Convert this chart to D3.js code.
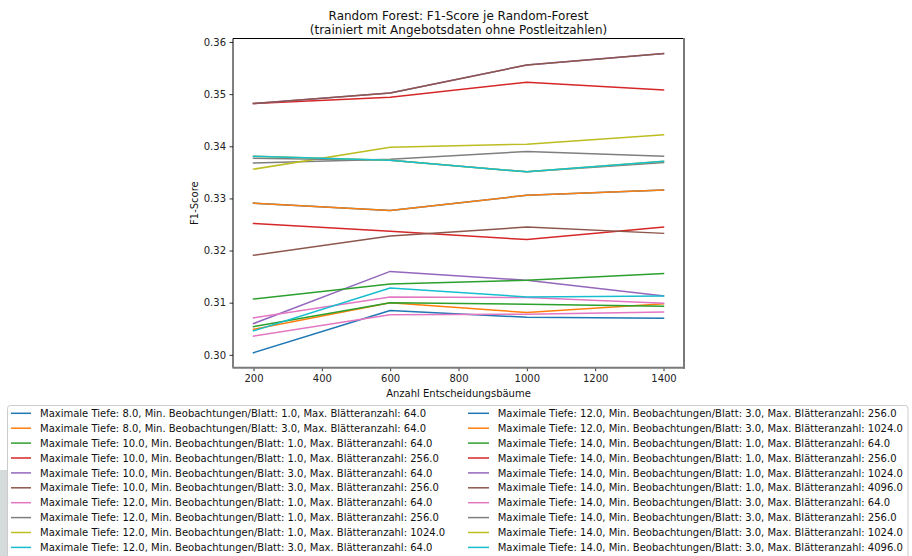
<!DOCTYPE html>
<html>
<head>
<meta charset="utf-8">
<script src="https://cdn.jsdelivr.net/npm/d3@7"></script>
<style>
  html, body { margin: 0; padding: 0; background: #ffffff; }
  svg { display: block; font-family: "DejaVu Sans", sans-serif; }
</style>
</head>
<body>
<svg id="chart" width="912" height="556"></svg>
<script>
// ---------------- data ----------------
const nTrees = [200, 600, 1000, 1400];
const xTicks = [200, 400, 600, 800, 1000, 1200, 1400];
const yTicks = [0.30, 0.31, 0.32, 0.33, 0.34, 0.35, 0.36];

const maxDepth  = [8, 8, 10, 10, 10, 10, 12, 12, 12, 12, 12, 12, 14, 14, 14, 14, 14, 14, 14, 14];
const minLeaf   = [1, 3, 1, 1, 3, 3, 1, 1, 1, 3, 3, 3, 1, 1, 1, 1, 3, 3, 3, 3];
const maxLeaves = [64, 64, 64, 256, 64, 256, 64, 256, 1024, 64, 256, 1024, 64, 256, 1024, 4096, 64, 256, 1024, 4096];

const f1Scores = [
  [0.3004, 0.3085, 0.3072, 0.3070],
  [0.3049, 0.3100, 0.3081, 0.3098],
  [0.3054, 0.3100, 0.3097, 0.3093],
  [0.3252, 0.3237, 0.3221, 0.3245],
  [0.3060, 0.3160, 0.3143, 0.3113],
  [0.3191, 0.3228, 0.3245, 0.3233],
  [0.3071, 0.3111, 0.3110, 0.3099],
  [0.3368, 0.3375, 0.3390, 0.3381],
  [0.3356, 0.3398, 0.3404, 0.3422],
  [0.3046, 0.3128, 0.3111, 0.3113],
  [0.3291, 0.3277, 0.3306, 0.3316],
  [0.3291, 0.3277, 0.3306, 0.3316],
  [0.3107, 0.3136, 0.3143, 0.3156],
  [0.3482, 0.3494, 0.3523, 0.3508],
  [0.3482, 0.3502, 0.3556, 0.3578],
  [0.3482, 0.3502, 0.3556, 0.3578],
  [0.3036, 0.3077, 0.3078, 0.3082],
  [0.3377, 0.3373, 0.3351, 0.3369],
  [0.3381, 0.3373, 0.3351, 0.3371],
  [0.3381, 0.3373, 0.3351, 0.3371]
];

const palette = ["#1f77b4", "#ff7f0e", "#2ca02c", "#d62728", "#9467bd",
                 "#8c564b", "#e377c2", "#7f7f7f", "#bcbd22", "#17becf"];

const titleLines = ["Random Forest: F1-Score je Random-Forest",
                    "(trainiert mit Angebotsdaten ohne Postleitzahlen)"];
const xLabel = "Anzahl Entscheidungsbäume";
const yLabel = "F1-Score";

// ---------------- layout ----------------
const W = 912, H = 556;
const plot = { left: 233, right: 684, top: 38.5, bottom: 367.7 };

const svg = d3.select("#chart");

// light background strip at bottom-left
svg.append("rect")
  .attr("x", 0).attr("y", 470).attr("width", 8).attr("height", H - 470)
  .attr("fill", "#d5dbdb");

const allVals = f1Scores.flat();
const xMin = d3.min(nTrees), xMax = d3.max(nTrees);
const yMin = d3.min(allVals), yMax = d3.max(allVals);
const xPad = (xMax - xMin) * 0.05, yPad = (yMax - yMin) * 0.05;

const x = d3.scaleLinear().domain([xMin - xPad, xMax + xPad]).range([plot.left, plot.right]);
const y = d3.scaleLinear().domain([yMin - yPad, yMax + yPad]).range([plot.bottom, plot.top]);

// lines
const line = d3.line().x((d, i) => x(nTrees[i])).y(d => y(d));
const gLines = svg.append("g");
f1Scores.forEach((vals, k) => {
  gLines.append("path")
    .attr("d", line(vals))
    .attr("fill", "none")
    .attr("stroke", palette[k % 10])
    .attr("stroke-width", 1.5)
    .attr("stroke-linejoin", "round")
    .attr("stroke-linecap", "square");
});

// axes
const xAxis = d3.axisBottom(x).tickValues(xTicks).tickFormat(d3.format("d"))
  .tickSize(3.5).tickPadding(3.5);
const yAxis = d3.axisLeft(y).tickValues(yTicks).tickFormat(d3.format(".2f"))
  .tickSize(3.5).tickPadding(3.5);

const gx = svg.append("g").attr("transform", `translate(0,${plot.bottom})`).call(xAxis);
const gy = svg.append("g").attr("transform", `translate(${plot.left},0)`).call(yAxis);
[gx, gy].forEach(g => {
  g.select(".domain").remove();
  g.selectAll(".tick line").attr("stroke", "#000").attr("stroke-width", 0.8);
  g.selectAll(".tick text").attr("fill", "#222").attr("font-size", 10)
    .attr("font-family", "DejaVu Sans, sans-serif");
});

// spines
svg.append("line").attr("x1", plot.left).attr("x2", plot.left).attr("y1", plot.top).attr("y2", plot.bottom)
  .attr("stroke", "#000").attr("stroke-width", 1);
svg.append("line").attr("x1", plot.left).attr("x2", plot.right).attr("y1", plot.top).attr("y2", plot.top)
  .attr("stroke", "#000").attr("stroke-width", 1);
svg.append("line").attr("x1", plot.right).attr("x2", plot.right).attr("y1", plot.top - 0.5).attr("y2", plot.bottom + 1)
  .attr("stroke", "#7a7a7a").attr("stroke-width", 2);
svg.append("line").attr("x1", plot.left - 0.5).attr("x2", plot.right + 1).attr("y1", plot.bottom).attr("y2", plot.bottom)
  .attr("stroke", "#7a7a7a").attr("stroke-width", 2);

// title
const cx = (plot.left + plot.right) / 2;
svg.append("text").attr("x", cx).attr("y", 20).attr("text-anchor", "middle")
  .attr("font-size", 12).attr("fill", "#111").text(titleLines[0]);
svg.append("text").attr("x", cx).attr("y", 34).attr("text-anchor", "middle")
  .attr("font-size", 12).attr("fill", "#111").text(titleLines[1]);

// axis labels
svg.append("text").attr("x", cx).attr("y", 397).attr("text-anchor", "middle")
  .attr("font-size", 10).attr("fill", "#111").text(xLabel);
svg.append("text").attr("transform", `translate(197.5,${(plot.top + plot.bottom) / 2}) rotate(-90)`)
  .attr("text-anchor", "middle").attr("font-size", 10).attr("fill", "#111").text(yLabel);

// legend
const legend = svg.append("g");
legend.append("rect")
  .attr("x", 7.5).attr("y", 405.5).attr("width", 900.5).attr("height", 170)
  .attr("rx", 3).attr("ry", 3)
  .attr("fill", "#ffffff").attr("fill-opacity", 0.9)
  .attr("stroke", "#cccccc").attr("stroke-width", 1);

const rowsPerCol = 10;
const colX = [{ h0: 11, h1: 31, t: 40 }, { h0: 468, h1: 489, t: 497.7 }];
const row0 = 413.3, rowStep = 14.9;
f1Scores.forEach((vals, k) => {
  const c = Math.floor(k / rowsPerCol), r = k % rowsPerCol;
  const cy = row0 + r * rowStep;
  legend.append("line")
    .attr("x1", colX[c].h0).attr("x2", colX[c].h1).attr("y1", cy).attr("y2", cy)
    .attr("stroke", palette[k % 10]).attr("stroke-width", 1.5);
  legend.append("text")
    .attr("x", colX[c].t).attr("y", cy + 3.6)
    .attr("font-size", 10).attr("fill", "#111")
    .text(`Maximale Tiefe: ${maxDepth[k].toFixed(1)}, Min. Beobachtungen/Blatt: ${minLeaf[k].toFixed(1)}, Max. Blätteranzahl: ${maxLeaves[k].toFixed(1)}`);
});
</script>
</body>
</html>
